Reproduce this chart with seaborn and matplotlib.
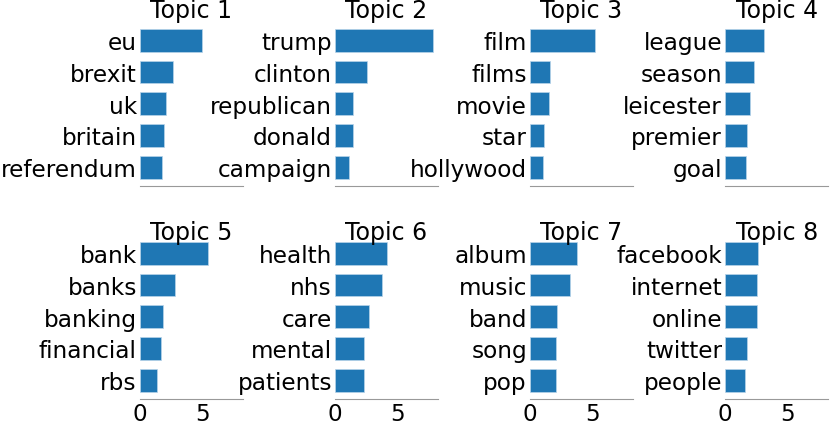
import matplotlib
matplotlib.use('Agg')
import matplotlib.pyplot as plt
import seaborn as sns

# top words per topic and their weights
topic_titles = ['Topic 1', 'Topic 2', 'Topic 3', 'Topic 4',
                'Topic 5', 'Topic 6', 'Topic 7', 'Topic 8']

words_1 = ['eu', 'brexit', 'uk', 'britain', 'referendum']
weights_1 = [4.95, 2.6, 2.1, 1.95, 1.75]
words_2 = ['trump', 'clinton', 'republican', 'donald', 'campaign']
weights_2 = [7.8, 2.55, 1.45, 1.4, 1.1]
words_3 = ['film', 'films', 'movie', 'star', 'hollywood']
weights_3 = [5.15, 1.55, 1.5, 1.1, 1.05]
words_4 = ['league', 'season', 'leicester', 'premier', 'goal']
weights_4 = [3.1, 2.25, 1.95, 1.75, 1.65]
words_5 = ['bank', 'banks', 'banking', 'financial', 'rbs']
weights_5 = [5.4, 2.75, 1.85, 1.7, 1.38]
words_6 = ['health', 'nhs', 'care', 'mental', 'patients']
weights_6 = [4.1, 3.7, 2.7, 2.3, 2.3]
words_7 = ['album', 'music', 'band', 'song', 'pop']
weights_7 = [3.75, 3.2, 2.1, 2.08, 2.05]
words_8 = ['facebook', 'internet', 'online', 'twitter', 'people']
weights_8 = [2.6, 2.55, 2.5, 1.75, 1.55]

all_words = [words_1, words_2, words_3, words_4, words_5, words_6, words_7, words_8]
all_weights = [weights_1, weights_2, weights_3, weights_4,
               weights_5, weights_6, weights_7, weights_8]

sns.set_style('white')
plt.rcParams['font.family'] = ['DejaVu Sans']

fig, axes = plt.subplots(2, 4, figsize=(8.31, 4.27), dpi=100, sharex=True)
fig.subplots_adjust(left=0.1685, right=0.9964, top=0.9466, bottom=0.0639,
                    wspace=0.899, hspace=0.2996)

for ax, title, words, weights in zip(axes.flatten(), topic_titles, all_words, all_weights):
    sns.barplot(x=weights, y=words, ax=ax, orient='h', color='#1f77b4',
                saturation=1, width=0.72, edgecolor='#b8d4ea', linewidth=0.5)
    ax.set_ylim(4.585, -0.585)
    ax.set_title(title, fontsize=17, pad=-3, color='black')
    ax.set_xlabel('')
    ax.set_ylabel('')
    ax.tick_params(axis='both', which='major', labelsize=16.7, length=2,
                   color='#888888', labelcolor='black', width=0.8)
    ax.tick_params(axis='y', pad=0.3)
    ax.tick_params(axis='x', pad=0.5)
    for side in ['top', 'right', 'left']:
        ax.spines[side].set_visible(False)
    ax.spines['bottom'].set_color('#999999')
    ax.spines['bottom'].set_linewidth(0.8)

axes[0, 0].set_xticks([0, 5])

plt.savefig('out.png', dpi=100)
